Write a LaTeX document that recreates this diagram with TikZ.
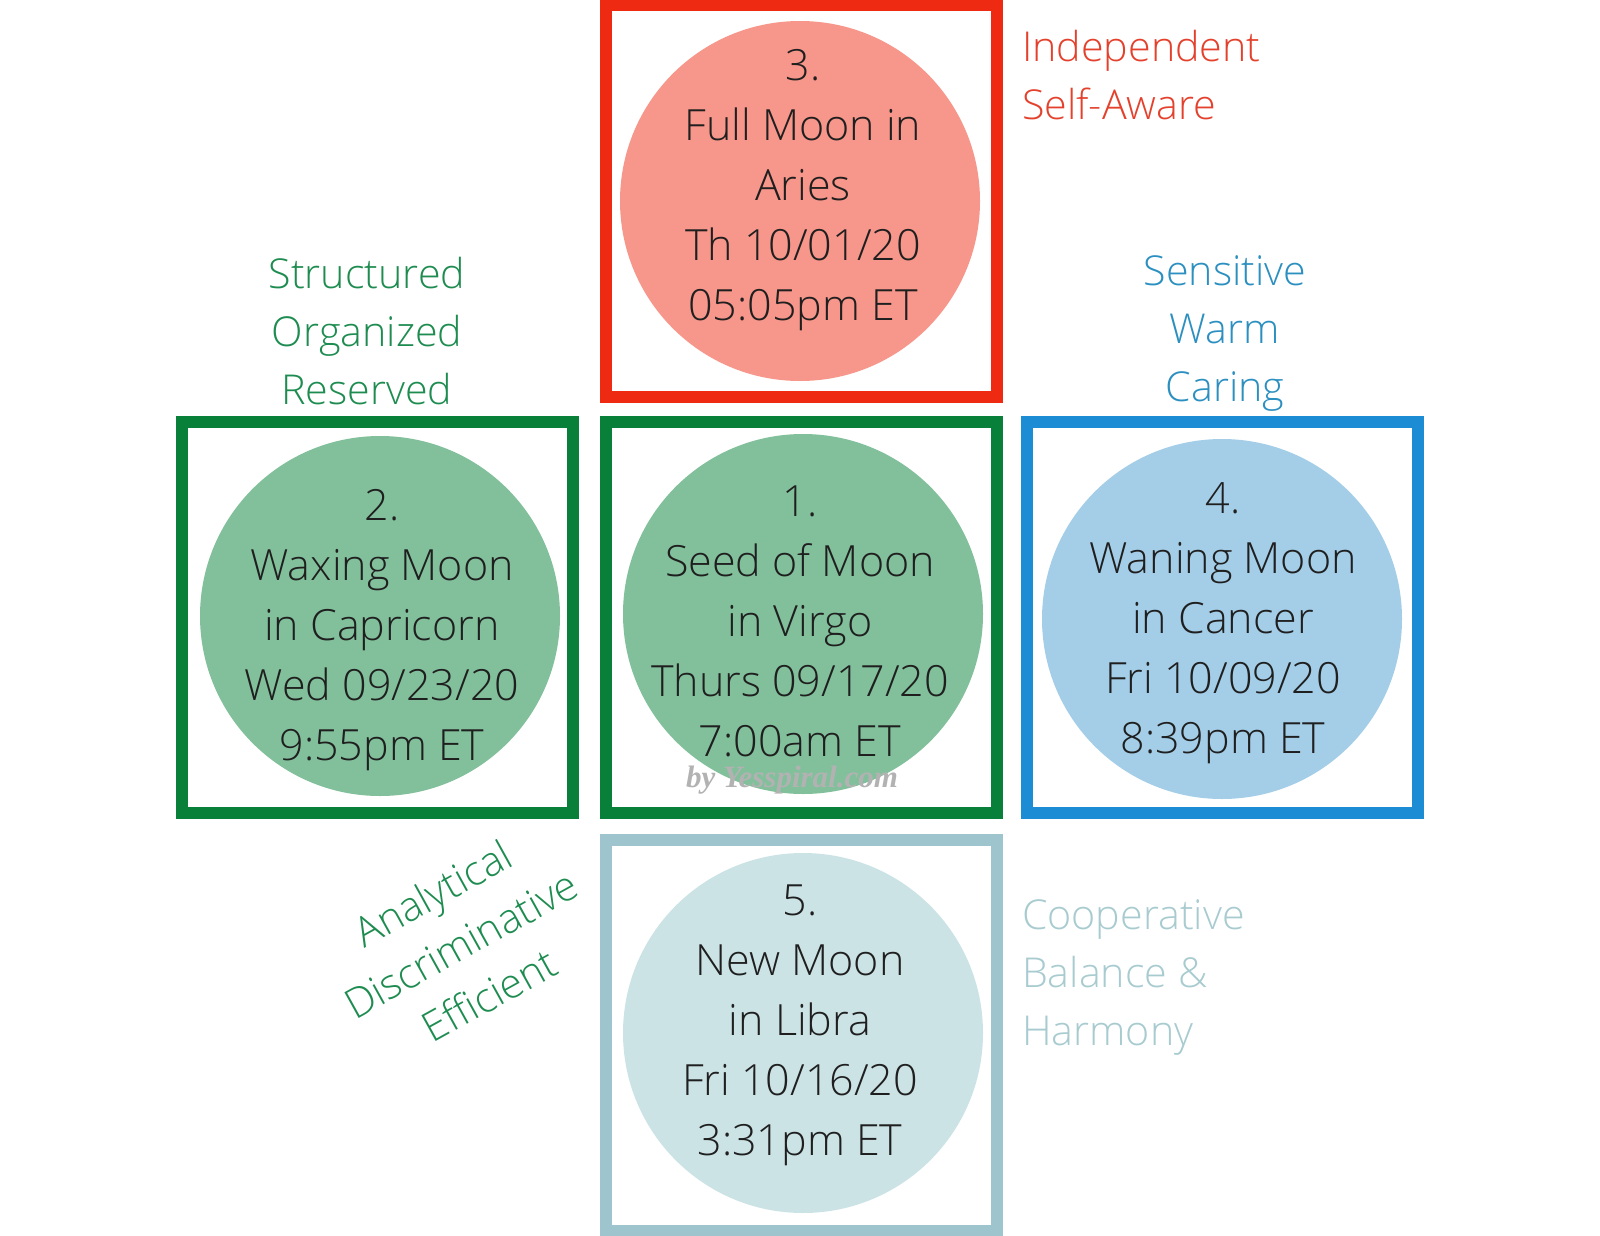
\documentclass[tikz,border=0pt]{standalone}
\usepackage{fontspec}
\IfFontExistsTF{Open Sans Light}{\setmainfont{Open Sans Light}}{%
  \IfFontExistsTF{OpenSans-Light}{\setmainfont{OpenSans-Light}}{\setmainfont{Open Sans}}}
\newfontfamily\wmfont{Liberation Serif}
\definecolor{redbox}{RGB}{238,42,18}
\definecolor{redfill}{RGB}{247,150,138}
\definecolor{greenbox}{RGB}{8,128,58}
\definecolor{greenfill}{RGB}{130,192,156}
\definecolor{bluebox}{RGB}{28,140,212}
\definecolor{bluefill}{RGB}{164,206,232}
\definecolor{tealbox}{RGB}{158,197,206}
\definecolor{tealfill}{RGB}{204,227,230}
\definecolor{redtxt}{RGB}{228,65,45}
\definecolor{greentxt}{RGB}{30,140,80}
\definecolor{bluetxt}{RGB}{43,143,192}
\definecolor{tealtxt}{RGB}{168,203,208}
\begin{document}
\begin{tikzpicture}[x=0.5pt,y=-0.5pt,
  frame/.style={draw, rectangle, line width=6pt, minimum size=195.5pt, inner sep=0pt},
  moon/.style={circle, minimum size=180pt, inner sep=0pt},
  moontext/.style={align=center, text=black!88, font=\fontsize{21.5}{30}\selectfont},
  trait/.style={align=center, font=\fontsize{20.6}{29}\selectfont}]
\useasboundingbox (0,0) rectangle (1600,1236);
% moons
\node[moon, fill=redfill] (c3) at (800,201) {};
\node[moon, fill=greenfill] (c2) at (380,616) {};
\node[moon, fill=greenfill] (c1) at (803,614) {};
\node[moon, fill=bluefill] (c4) at (1222,619) {};
\node[moon, fill=tealfill] (c5) at (803,1033) {};
% frames
\node[frame, draw=redbox] (f3) at (801.5,201) {};
\node[frame, draw=greenbox] (f2) at (377.5,617.5) {};
\node[frame, draw=greenbox] (f1) at (801.5,617.5) {};
\node[frame, draw=bluebox] (f4) at (1222,617.5) {};
\node[frame, draw=tealbox] (f5) at (801.5,1035.5) {};
% moon texts
\node[moontext] (t3) at (803,190) {3.\\Full Moon in\\Aries\\Th 10/01/20\\05:05pm ET};
\node[moontext] (t2) at (382,630) {2.\\Waxing Moon\\in Capricorn\\Wed 09/23/20\\9:55pm ET};
\node[moontext] (t1) at (800,621) {1.\\Seed of Moon\\in Virgo\\Thurs 09/17/20\\7:00am ET};
\node[moontext] (t4) at (1223,623) {4.\\Waning Moon\\in Cancer\\Fri 10/09/20\\8:39pm ET};
\node[moontext] (t5) at (800,1025) {5.\\New Moon\\in Libra\\Fri 10/16/20\\3:31pm ET};
% traits
\node[trait, align=left, anchor=west, text=redtxt] (l3) at (1015,75) {Independent\\Self-Aware};
\node[trait, text=greentxt] (l2) at (367,331) {Structured\\Organized\\Reserved};
\node[trait, text=bluetxt] (l4) at (1225,334) {Sensitive\\Warm\\Caring};
\node[trait, align=left, anchor=west, text=tealtxt] (l5) at (1015,977) {Cooperative\\Balance \&\\Harmony};
\node[trait, text=greentxt, rotate=29] (l1) at (461,944) {Analytical\\Discriminative\\Efficient};
% watermark
\node[text=black!30, font=\wmfont\bfseries\itshape\fontsize{15.5}{17}\selectfont] (wm) at (792,780) {by Yesspiral.com};
\end{tikzpicture}
\end{document}
